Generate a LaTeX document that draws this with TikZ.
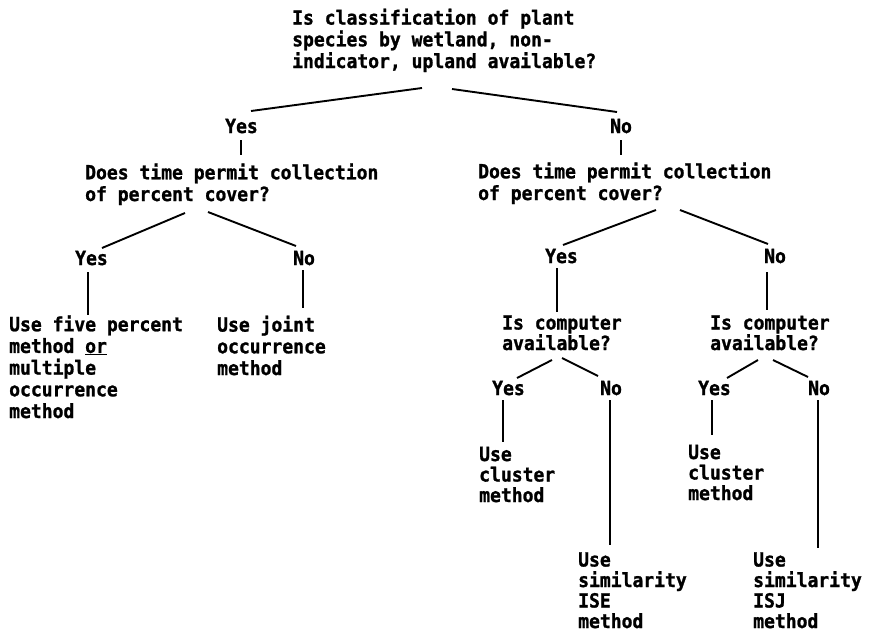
\documentclass[tikz,border=0pt]{standalone}
\usepackage{fontspec}
\newfontfamily\twfont{DejaVu Sans Mono Bold}[FakeStretch=0.925,FakeBold=1.2]
\begin{document}
\begin{tikzpicture}[x=1pt,y=-1pt,
  txt/.style={anchor=base west, inner sep=0pt, align=left,
    font=\twfont\fontsize{19.5}{21.7}\selectfont},
  tight/.style={font=\twfont\fontsize{19.5}{20.5}\selectfont},
  conn/.style={line width=1.9pt}]
\useasboundingbox (0,0) rectangle (869,637);
% text nodes (anchored at the baseline of their last line)
\node[txt] (q0) at (292,68) {Is classification of plant\\species by wetland, non-\\indicator, upland available?};
\node[txt] (y1) at (225,133) {Yes};
\node[txt] (n1) at (610,133) {No};
\node[txt] (q1) at (85,201) {Does time permit collection\\of percent cover?};
\node[txt] (q2) at (478,200) {Does time permit collection\\of percent cover?};
\node[txt] (y2) at (75,265) {Yes};
\node[txt] (n2) at (293,265) {No};
\node[txt] (a1) at (9,418) {Use five percent\\method \underline{or}\\multiple\\occurrence\\method};
\node[txt] (a2) at (217,375) {Use joint\\occurrence\\method};
\node[txt] (y3) at (545,263) {Yes};
\node[txt] (n3) at (764,263) {No};
\node[txt,tight] (c1) at (502,350) {Is computer\\available?};
\node[txt,tight] (c2) at (710,350) {Is computer\\available?};
\node[txt] (y4) at (492,395) {Yes};
\node[txt] (n4) at (600,395) {No};
\node[txt] (y5) at (698,395) {Yes};
\node[txt] (n5) at (808,395) {No};
\node[txt,tight] (u1) at (479,502) {Use\\cluster\\method};
\node[txt,tight] (u2) at (578,628) {Use\\similarity\\ISE\\method};
\node[txt,tight] (u3) at (688,500) {Use\\cluster\\method};
\node[txt,tight] (u4) at (753,628) {Use\\similarity\\ISJ\\method};
% connector end points
\coordinate (q0l) at (422,88);  \coordinate (y1u) at (251,111);
\coordinate (q0r) at (452,89);  \coordinate (n1u) at (617,112);
\coordinate (y1d) at (241,140); \coordinate (q1u) at (241,155);
\coordinate (n1d) at (621,140); \coordinate (q2u) at (621,155);
\coordinate (q1l) at (185,213); \coordinate (y2u) at (102,248);
\coordinate (q1r) at (208,212); \coordinate (n2u) at (296,246);
\coordinate (y2d) at (88,272);  \coordinate (a1u) at (88,315);
\coordinate (n2d) at (303,270); \coordinate (a2u) at (303,308);
\coordinate (q2l) at (656,210); \coordinate (y3u) at (563,245);
\coordinate (q2r) at (680,210); \coordinate (n3u) at (768,244);
\coordinate (y3d) at (557,268); \coordinate (c1u) at (557,312);
\coordinate (n3d) at (767,272); \coordinate (c2u) at (767,310);
\coordinate (c1l) at (552,360); \coordinate (y4u) at (517,378);
\coordinate (c1r) at (562,358); \coordinate (n4u) at (598,376);
\coordinate (c2l) at (758,360); \coordinate (y5u) at (727,378);
\coordinate (c2r) at (773,360); \coordinate (n5u) at (808,377);
\coordinate (y4d) at (503,400); \coordinate (u1u) at (503,442);
\coordinate (n4d) at (610,400); \coordinate (u2u) at (610,545);
\coordinate (y5d) at (712,400); \coordinate (u3u) at (712,435);
\coordinate (n5d) at (818,400); \coordinate (u4u) at (818,548);
% connectors
\draw[conn] (q0l) -- (y1u);
\draw[conn] (q0r) -- (n1u);
\draw[conn] (y1d) -- (q1u);
\draw[conn] (n1d) -- (q2u);
\draw[conn] (q1l) -- (y2u);
\draw[conn] (q1r) -- (n2u);
\draw[conn] (y2d) -- (a1u);
\draw[conn] (n2d) -- (a2u);
\draw[conn] (q2l) -- (y3u);
\draw[conn] (q2r) -- (n3u);
\draw[conn] (y3d) -- (c1u);
\draw[conn] (n3d) -- (c2u);
\draw[conn] (c1l) -- (y4u);
\draw[conn] (c1r) -- (n4u);
\draw[conn] (c2l) -- (y5u);
\draw[conn] (c2r) -- (n5u);
\draw[conn] (y4d) -- (u1u);
\draw[conn] (n4d) -- (u2u);
\draw[conn] (y5d) -- (u3u);
\draw[conn] (n5d) -- (u4u);
\end{tikzpicture}
\end{document}
